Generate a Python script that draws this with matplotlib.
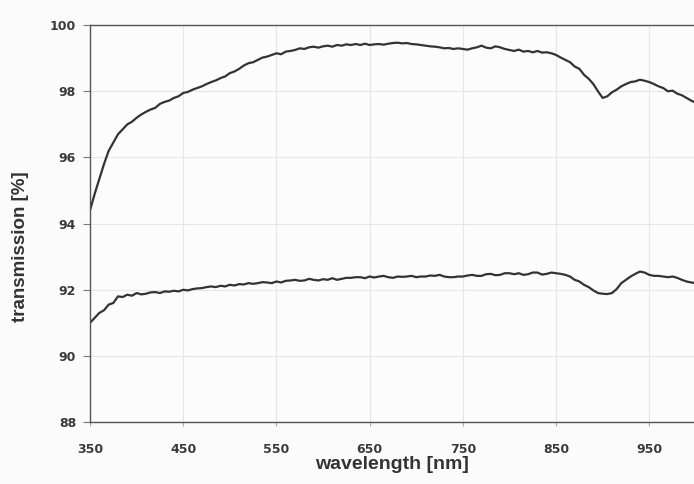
import matplotlib
matplotlib.use("Agg")
import matplotlib.pyplot as plt

wavelength = list(range(350, 1001, 5))

upper = [94.4, 94.9, 95.35, 95.8, 96.2, 96.45, 96.7, 96.85, 97.0, 97.08,
         97.2, 97.3, 97.38, 97.45, 97.5, 97.62, 97.68, 97.72, 97.8, 97.85,
         97.95, 97.98, 98.05, 98.1, 98.15, 98.22, 98.28, 98.33, 98.4, 98.45,
         98.55, 98.6, 98.68, 98.78, 98.85, 98.88, 98.95, 99.02, 99.05, 99.1,
         99.15, 99.12, 99.2, 99.22, 99.25, 99.3, 99.28, 99.33, 99.35, 99.32,
         99.36, 99.38, 99.35, 99.4, 99.38, 99.42, 99.4, 99.43, 99.4, 99.44,
         99.4, 99.42, 99.43, 99.41, 99.44, 99.46, 99.47, 99.45, 99.46, 99.43,
         99.42, 99.4, 99.38, 99.36, 99.35, 99.33, 99.3, 99.31, 99.28, 99.3,
         99.28, 99.26, 99.3, 99.33, 99.38, 99.32, 99.3, 99.36, 99.33, 99.28,
         99.25, 99.22, 99.26, 99.2, 99.22, 99.18, 99.22, 99.17, 99.18, 99.15,
         99.1, 99.02, 98.95, 98.88, 98.75, 98.68, 98.5, 98.38, 98.22, 98.0,
         97.8, 97.85, 97.97, 98.05, 98.15, 98.22, 98.28, 98.3, 98.35, 98.32,
         98.28, 98.22, 98.15, 98.1, 98.0, 98.02, 97.93, 97.88, 97.8, 97.72,
         97.65]

lower = [91.0, 91.15, 91.3, 91.38, 91.55, 91.6, 91.8, 91.78, 91.85, 91.82,
         91.9, 91.86, 91.88, 91.92, 91.93, 91.9, 91.95, 91.94, 91.97, 91.95,
         92.0, 91.98, 92.02, 92.04, 92.05, 92.08, 92.1, 92.08, 92.12, 92.1,
         92.15, 92.13, 92.17, 92.16, 92.2, 92.18, 92.2, 92.23, 92.22, 92.2,
         92.25, 92.22, 92.27, 92.28, 92.3, 92.27, 92.28, 92.33, 92.3, 92.28,
         92.32, 92.3, 92.35, 92.3, 92.33, 92.36, 92.36, 92.38, 92.38, 92.35,
         92.4, 92.37, 92.4, 92.42, 92.38, 92.36, 92.4, 92.39, 92.4, 92.42,
         92.38, 92.4, 92.4, 92.43, 92.42, 92.45, 92.4, 92.38, 92.38, 92.4,
         92.4, 92.43, 92.45, 92.42, 92.42, 92.47, 92.48, 92.44, 92.45, 92.5,
         92.5, 92.47, 92.5, 92.45, 92.47, 92.52, 92.52, 92.46, 92.48, 92.52,
         92.5, 92.48, 92.45, 92.4, 92.3, 92.25, 92.15, 92.08, 91.98, 91.9,
         91.88, 91.87, 91.9, 92.02, 92.2, 92.3, 92.4, 92.48, 92.55, 92.52,
         92.45, 92.42, 92.42, 92.4, 92.38, 92.4, 92.36, 92.3, 92.25, 92.22,
         92.2]

x_ticks = [350, 450, 550, 650, 750, 850, 950]
y_ticks = [88, 90, 92, 94, 96, 98, 100]

plt.rcParams['font.family'] = ['Liberation Sans', 'DejaVu Sans']

fig = plt.figure(figsize=(6.94, 4.84), dpi=100)
fig.patch.set_facecolor('#fbfbfb')
ax = fig.add_axes([0.1297, 0.128, 0.8703, 0.82])
ax.set_facecolor('#fcfcfc')

ax.plot(wavelength, upper, color='#333333', lw=1.6)
ax.plot(wavelength, lower, color='#333333', lw=1.6)

ax.set_xlim(350, 998)
ax.set_ylim(88, 100)
ax.set_xticks(x_ticks)
ax.set_yticks(y_ticks)
tick_font = dict(fontsize=9, fontweight='bold', color='#3a3a3a', family='DejaVu Sans')
ax.set_xticklabels([str(v) for v in x_ticks], **tick_font)
ax.set_yticklabels([str(v) for v in y_ticks], **tick_font)
ax.tick_params(axis='y', direction='out', length=5, width=0.8, color='#777777', pad=5)
ax.tick_params(axis='x', direction='out', length=3, width=0.8, color='#aaaaaa', pad=12)
ax.grid(True, color='#e6e6e6', lw=0.8)
ax.set_axisbelow(True)

for s in ['left', 'bottom', 'top']:
    ax.spines[s].set_color('#555555')
    ax.spines[s].set_linewidth(1.0)
ax.spines['right'].set_visible(False)

ax.set_xlabel('wavelength [nm]', fontsize=14, fontweight='bold', color='#333333', labelpad=0)
fig.text(0.03, 0.49, 'transmission [%]', rotation=90, fontsize=13.5, fontweight='bold',
         color='#333333', ha='center', va='center')

fig.savefig('out.png', dpi=100, facecolor=fig.get_facecolor())
